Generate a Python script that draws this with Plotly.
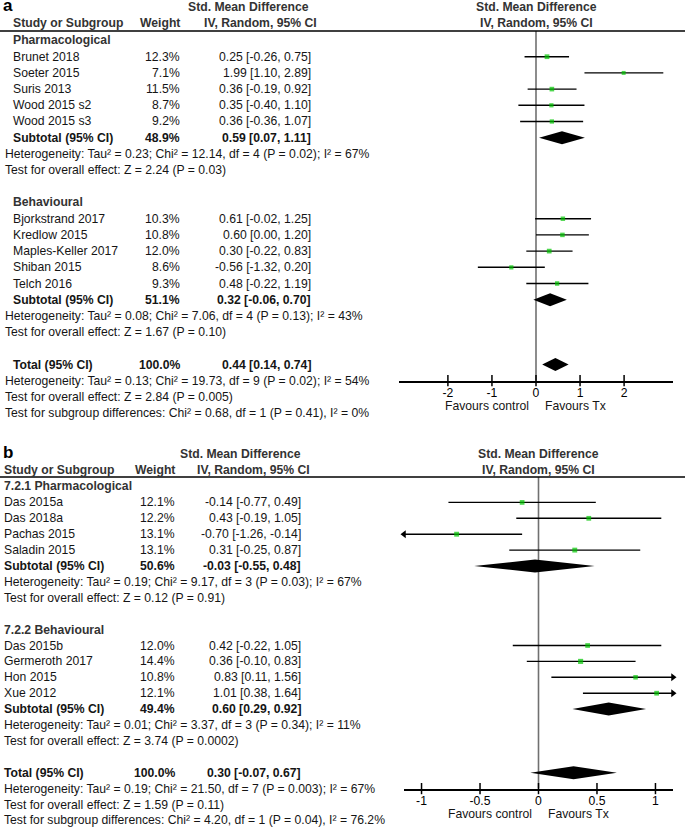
import plotly.graph_objects as go

W, H = 685, 828
FONT = "Liberation Sans, Arial, sans-serif"
FS = 12.2
GREEN = "#00c400"

# ---- panel a ----
a1_title = "Pharmacological"
a1_study = ["Brunet 2018", "Soeter 2015", "Suris 2013", "Wood 2015 s2", "Wood 2015 s3"]
a1_weight = [12.3, 7.1, 11.5, 8.7, 9.2]
a1_smd = [0.25, 1.99, 0.36, 0.35, 0.36]
a1_lo = [-0.26, 1.10, -0.19, -0.40, -0.36]
a1_hi = [0.75, 2.89, 0.92, 1.10, 1.07]
a1_sub = [48.9, 0.59, 0.07, 1.11]
a1_het = "Heterogeneity: Tau² = 0.23; Chi² = 12.14, df = 4 (P = 0.02); I² = 67%"
a1_test = "Test for overall effect: Z = 2.24 (P = 0.03)"

a2_title = "Behavioural"
a2_study = ["Bjorkstrand 2017", "Kredlow 2015", "Maples-Keller 2017", "Shiban 2015", "Telch 2016"]
a2_weight = [10.3, 10.8, 12.0, 8.6, 9.3]
a2_smd = [0.61, 0.60, 0.30, -0.56, 0.48]
a2_lo = [-0.02, 0.00, -0.22, -1.32, -0.22]
a2_hi = [1.25, 1.20, 0.83, 0.20, 1.19]
a2_sub = [51.1, 0.32, -0.06, 0.70]
a2_het = "Heterogeneity: Tau² = 0.08; Chi² = 7.06, df = 4 (P = 0.13); I² = 43%"
a2_test = "Test for overall effect: Z = 1.67 (P = 0.10)"

a_total = [100.0, 0.44, 0.14, 0.74]
a_notes = ["Heterogeneity: Tau² = 0.13; Chi² = 19.73, df = 9 (P = 0.02); I² = 54%",
           "Test for overall effect: Z = 2.84 (P = 0.005)",
           "Test for subgroup differences: Chi² = 0.68, df = 1 (P = 0.41), I² = 0%"]
a_ticks = [-2, -1, 0, 1, 2]

# ---- panel b ----
b1_title = "7.2.1 Pharmacological"
b1_study = ["Das 2015a", "Das 2018a", "Pachas 2015", "Saladin 2015"]
b1_weight = [12.1, 12.2, 13.1, 13.1]
b1_smd = [-0.14, 0.43, -0.70, 0.31]
b1_lo = [-0.77, -0.19, -1.26, -0.25]
b1_hi = [0.49, 1.05, -0.14, 0.87]
b1_sub = [50.6, -0.03, -0.55, 0.48]
b1_het = "Heterogeneity: Tau² = 0.19; Chi² = 9.17, df = 3 (P = 0.03); I² = 67%"
b1_test = "Test for overall effect: Z = 0.12 (P = 0.91)"

b2_title = "7.2.2 Behavioural"
b2_study = ["Das 2015b", "Germeroth 2017", "Hon 2015", "Xue 2012"]
b2_weight = [12.0, 14.4, 10.8, 12.1]
b2_smd = [0.42, 0.36, 0.83, 1.01]
b2_lo = [-0.22, -0.10, 0.11, 0.38]
b2_hi = [1.05, 0.83, 1.56, 1.64]
b2_sub = [49.4, 0.60, 0.29, 0.92]
b2_het = "Heterogeneity: Tau² = 0.01; Chi² = 3.37, df = 3 (P = 0.34); I² = 11%"
b2_test = "Test for overall effect: Z = 3.74 (P = 0.0002)"

b_total = [100.0, 0.30, -0.07, 0.67]
b_notes = ["Heterogeneity: Tau² = 0.19; Chi² = 21.50, df = 7 (P = 0.003); I² = 67%",
           "Test for overall effect: Z = 1.59 (P = 0.11)",
           "Test for subgroup differences: Chi² = 4.20, df = 1 (P = 0.04), I² = 76.2%"]
b_ticks = [-1, -0.5, 0, 0.5, 1]


fig = go.Figure()
anns = []
shapes = []
axes = {}


def txt(s, x, y, anchor="left", bold=False, size=FS, color="#151515"):
    # x, y in pixels from the top-left corner
    if bold:
        s = "<b>" + s + "</b>"
    anns.append(dict(text=s, x=x / W, y=1 - y / H, xref="paper", yref="paper",
                     xanchor=anchor, yanchor="middle", showarrow=False,
                     font=dict(family=FONT, size=size, color=color)))


def panel(label, groups, total, notes, ticks, n, p):
    xa = "x" if n == 1 else f"x{n}"
    ya = "y" if n == 1 else f"y{n}"
    ypos = lambda i: p["y0"] + i * p["dy"]
    lo_lim, hi_lim = p["range"]
    zero_px = (p["dom"][0] + p["dom"][1]) / 2
    h1, h2, hl = p["hdr"]

    # headers
    txt(label, 1, p["label_y"], bold=True, size=17, color="black")
    txt("Std. Mean Difference", p["h1_x"], h1, "center", True, color="#333")
    txt("Std. Mean Difference", zero_px, h1, "center", True, color="#333")
    txt("Study or Subgroup", p["name_x"], h2, bold=True, color="#333")
    txt("Weight", p["w_x"], h2, "right", True, color="#333")
    txt("IV, Random, 95% CI", p["h2_x"], h2, "center", True, color="#333")
    txt("IV, Random, 95% CI", zero_px, h2, "center", True, color="#333")
    shapes.append(dict(type="line", xref="paper", yref="paper", x0=0, x1=1,
                       y0=1 - hl / H, y1=1 - hl / H, line=dict(color="black", width=1.5)))

    cx, cy, sx, sy, ss = [], [], [], [], []
    al, ar = [], []

    def summary(name, vals, y):
        w, m, l, h = vals
        txt(name, p["name_x"], y, bold=True)
        txt(f"{w:.1f}%", p["w_x"], y, "right", True)
        txt(f"{m:.2f} [{l:.2f}, {h:.2f}]", p["ci_x"], y, "right", True)
        d = p["dh"]
        fig.add_trace(go.Scatter(x=[l, m, h, m, l], y=[y, y - d, y, y + d, y],
                                 mode="lines", fill="toself", fillcolor="black",
                                 line=dict(width=0, color="black"),
                                 xaxis=xa, yaxis=ya, hoverinfo="skip"))

    i = 0
    for title, names, wts, smd, lo, hi, sub, het, test in groups:
        txt(title, p["name_x"], ypos(i), bold=True, color="#333")
        i += 1
        for nm, w, m, l, h in zip(names, wts, smd, lo, hi):
            y = ypos(i)
            txt(nm, p["name_x"], y)
            txt(f"{w:.1f}%", p["w_x"], y, "right")
            txt(f"{m:.2f} [{l:.2f}, {h:.2f}]", p["ci_x"], y, "right")
            cx += [max(l, lo_lim), min(h, hi_lim), None]
            cy += [y, y, None]
            if l < lo_lim:
                al.append(y)
            if h > hi_lim:
                ar.append(y)
            sx.append(m)
            sy.append(y)
            ss.append(2.8 + 0.16 * w)
            i += 1
        summary("Subtotal (95% CI)", sub, ypos(i))
        txt(het, p["note_x"], ypos(i + 1))
        txt(test, p["note_x"], ypos(i + 2))
        i += 4
    summary("Total (95% CI)", total, ypos(i))
    for k, s in enumerate(notes):
        txt(s, p["note_x"], ypos(i + 1 + k))
    axis_y = ypos(i + 1)

    fig.add_trace(go.Scatter(x=cx, y=cy, mode="lines", line=dict(color="black", width=1.4),
                             xaxis=xa, yaxis=ya, hoverinfo="skip"))
    fig.add_trace(go.Scatter(x=sx, y=sy, mode="markers",
                             marker=dict(symbol="square", size=ss, color=GREEN, line_width=0),
                             xaxis=xa, yaxis=ya, hoverinfo="skip"))
    if al:
        fig.add_trace(go.Scatter(x=[lo_lim] * len(al), y=al, mode="markers", cliponaxis=False,
                                 marker=dict(symbol="triangle-left", size=7, color="black"),
                                 xaxis=xa, yaxis=ya, hoverinfo="skip"))
    if ar:
        fig.add_trace(go.Scatter(x=[hi_lim] * len(ar), y=ar, mode="markers", cliponaxis=False,
                                 marker=dict(symbol="triangle-right", size=7, color="black"),
                                 xaxis=xa, yaxis=ya, hoverinfo="skip"))
    # tick marks crossing the axis line
    fig.add_trace(go.Scatter(x=ticks, y=[axis_y] * len(ticks), mode="markers", cliponaxis=False,
                             marker=dict(symbol="line-ns", size=8,
                                         line=dict(width=1.5, color="black")),
                             xaxis=xa, yaxis=ya, hoverinfo="skip"))

    shapes.append(dict(type="line", xref=xa, yref=ya, x0=0, x1=0, y0=hl, y1=axis_y,
                       line=dict(color="#707070", width=1.6), layer="below"))

    txt("Favours control", zero_px - 5, axis_y + 25, "right")
    txt("Favours Tx", zero_px + 7, axis_y + 25, "left")

    axes["xaxis" if n == 1 else f"xaxis{n}"] = dict(
        domain=[p["dom"][0] / W, p["dom"][1] / W], range=list(p["range"]), anchor=ya,
        showline=True, linecolor="black", linewidth=1.5,
        ticks="", tickvals=ticks, ticktext=[f"{t:g}" for t in ticks],
        tickfont=dict(family=FONT, size=FS, color="black"), ticklabelstandoff=0,
        showgrid=False, zeroline=False, fixedrange=True)
    # y in pixels from the top; the domain ends on the axis line
    axes["yaxis" if n == 1 else f"yaxis{n}"] = dict(
        domain=[1 - axis_y / H, 1], range=[axis_y, 0], anchor=xa,
        visible=False, fixedrange=True)


pa = dict(y0=40.5, dy=16.2, range=(-3.11, 3.11), dom=(399, 673), hdr=(7, 23, 31),
          label_y=5, name_x=11, note_x=3, w_x=182, ci_x=313, h1_x=248, h2_x=260, dh=6.5)
pb = dict(y0=486.5, dy=15.9, range=(-1.15, 1.15), dom=(404, 673), hdr=(454, 470, 477),
          label_y=452, name_x=2, note_x=2, w_x=177, ci_x=303, h1_x=240, h2_x=253, dh=6.5)

panel("a",
      [(a1_title, a1_study, a1_weight, a1_smd, a1_lo, a1_hi, a1_sub, a1_het, a1_test),
       (a2_title, a2_study, a2_weight, a2_smd, a2_lo, a2_hi, a2_sub, a2_het, a2_test)],
      a_total, a_notes, a_ticks, 1, pa)
panel("b",
      [(b1_title, b1_study, b1_weight, b1_smd, b1_lo, b1_hi, b1_sub, b1_het, b1_test),
       (b2_title, b2_study, b2_weight, b2_smd, b2_lo, b2_hi, b2_sub, b2_het, b2_test)],
      b_total, b_notes, b_ticks, 2, pb)

# the two plot areas overlap, so their backgrounds must stay see-through
fig.update_layout(width=W, height=H, margin=dict(l=0, r=0, t=0, b=0),
                  paper_bgcolor="white", plot_bgcolor="rgba(0,0,0,0)", showlegend=False,
                  font=dict(family=FONT, size=FS, color="black"),
                  annotations=anns, shapes=shapes, **axes)

fig.write_html("out.html", config={"displayModeBar": False},
               post_script="document.body.style.margin='0';")
